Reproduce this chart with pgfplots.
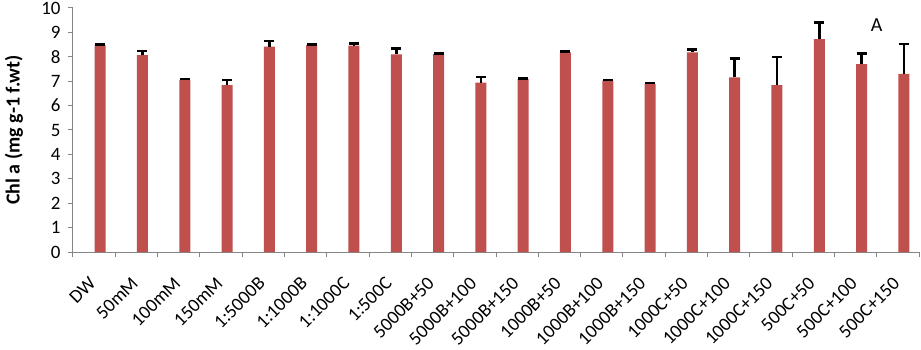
\documentclass[border=0pt]{standalone}
\usepackage{pgfplots}
\pgfplotsset{compat=1.18}
\usepackage{pgfplotstable}
\usepackage{fontspec}
\setmainfont{Carlito}
\definecolor{barred}{HTML}{C0504D}
\definecolor{axgray}{HTML}{868686}
\pgfplotstableread{
i v e
0 8.47 0.03
1 8.07 0.16
2 7.05 0.05
3 6.84 0.20
4 8.42 0.22
5 8.48 0.03
6 8.46 0.08
7 8.10 0.23
8 8.11 0.03
9 6.94 0.23
10 7.08 0.03
11 8.18 0.03
12 7.02 0.03
13 6.89 0.03
14 8.18 0.11
15 7.16 0.78
16 6.84 1.16
17 8.72 0.69
18 7.70 0.44
19 7.30 1.23
}\chl
\begin{document}
\begin{tikzpicture}
\path[use as bounding box] (-73bp,-98bp) rectangle (848bp,252bp);
\begin{axis}[
  scale only axis,
  width=846bp, height=244bp,
  xmin=-0.5, xmax=19.5,
  ymin=0, ymax=10,
  ytick={0,1,...,10},
  axis x line=bottom, axis y line=left,
  axis line style={-, draw=axgray, line width=1bp},
  tick style={draw=axgray, line width=1bp},
  tick align=outside,
  major tick length=5bp,
  xtick={0,...,19},
  xticklabels={DW,50mM,100mM,150mM,1:5000B,1:1000B,1:1000C,1:500C,5000B+50,5000B+100,5000B+150,1000B+50,1000B+100,1000B+150,1000C+50,1000C+100,1000C+150,500C+50,500C+100,500C+150},
  minor xtick={-0.5,0.5,...,19.5},
  major x tick style={draw=none},
  minor tick length=5bp,
  /pgf/number format/assume math mode=true,
  ticklabel style={font=\fontsize{19}{23}\selectfont},
  xticklabel style={xshift=-6bp, yshift=-14bp, rotate=45, anchor=north east},
  yticklabel style={xshift=-4bp},
  ylabel={Chl a (mg g-1 f.wt)},
  ylabel style={font=\fontsize{20}{24}\selectfont\bfseries, at={(axis description cs:0,0.5)}, anchor=center, yshift=59bp},
  clip=false,
]
\addplot[ybar, bar width=11bp, bar shift=0pt, fill=barred, draw=none,
  error bars/.cd, y dir=plus, y explicit,
  error bar style={line width=2.5bp, black},
  error mark options={line width=2.5bp, black, mark size=5bp, rotate=90}]
  table[x expr=\thisrow{i}+0.142, y=v, y error=e] {\chl};
\node[font=\fontsize{20}{24}\selectfont] at (axis cs:18.5,9.3) {A};
\end{axis}
\end{tikzpicture}
\end{document}
